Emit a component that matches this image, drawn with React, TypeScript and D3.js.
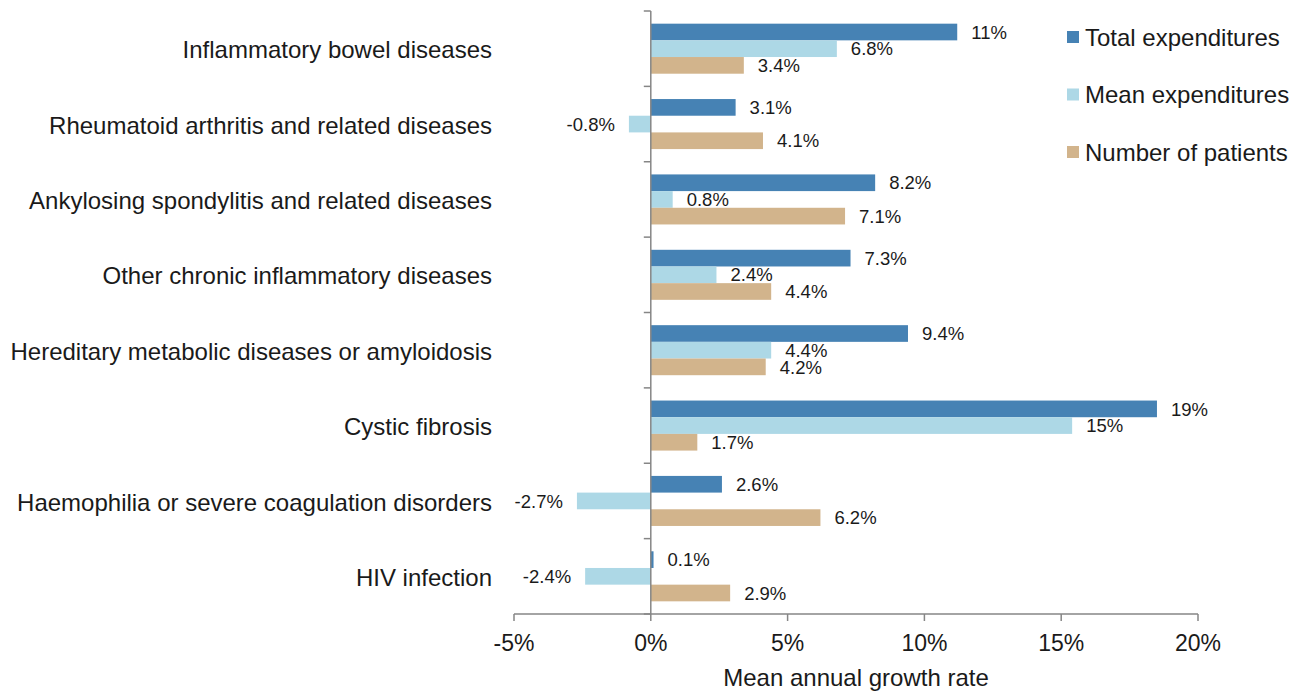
import React from 'react';
import * as d3 from 'd3';

const categories = [
  'Inflammatory bowel diseases',
  'Rheumatoid arthritis and related diseases',
  'Ankylosing spondylitis and related diseases',
  'Other chronic inflammatory diseases',
  'Hereditary metabolic diseases or amyloidosis',
  'Cystic fibrosis',
  'Haemophilia or severe coagulation disorders',
  'HIV infection',
];
const seriesNames = ['Total expenditures', 'Mean expenditures', 'Number of patients'];
const seriesColors = ['#4682b4', '#add8e6', '#d2b48c'];
const totalExpenditures = [11.2, 3.1, 8.2, 7.3, 9.4, 18.5, 2.6, 0.1];
const meanExpenditures = [6.8, -0.8, 0.8, 2.4, 4.4, 15.4, -2.7, -2.4];
const numberOfPatients = [3.4, 4.1, 7.1, 4.4, 4.2, 1.7, 6.2, 2.9];
const xTicks = [-5, 0, 5, 10, 15, 20];
const xTitle = 'Mean annual growth rate';

const series = [totalExpenditures, meanExpenditures, numberOfPatients];

const width = 1297;
const height = 696;
const font = '"Liberation Sans", Arial, sans-serif';
const axisColor = '#868686';
const textColor = '#1a1a1a';

// values of 10% and more are shown without decimals, like the source
const fmt = (v: number) => (Math.abs(v) >= 10 ? `${Math.round(v)}%` : `${v.toFixed(1)}%`);

export default function App() {
  const x = d3.scaleLinear().domain([-5, 20]).range([514, 1198]);
  const y = d3.scaleBand<string>().domain(categories).range([11, 614]);
  const inner = d3
    .scaleBand<number>()
    .domain(d3.range(series.length))
    .range([0, y.bandwidth()])
    .paddingOuter(0.76);
  const x0 = x(0);
  const [yTop, yBottom] = y.range();

  return (
    <svg
      width={width}
      height={height}
      style={{ position: 'absolute', left: 0, top: 0, display: 'block', background: '#fff' }}
      fontFamily={font}
    >
      {/* bars */}
      {categories.map((cat, i) => (
        <g key={cat} transform={`translate(0,${y(cat)})`}>
          {series.map((vals, s) => {
            const v = vals[i];
            return (
              <rect
                key={s}
                x={Math.min(x(v), x0)}
                y={inner(s)}
                width={Math.abs(x(v) - x0)}
                height={inner.bandwidth()}
                fill={seriesColors[s]}
              />
            );
          })}
        </g>
      ))}

      {/* value labels */}
      {categories.map((cat, i) => (
        <g key={cat + '-lbl'} transform={`translate(0,${y(cat)})`}>
          {series.map((vals, s) => {
            const v = vals[i];
            const pos = v >= 0;
            return (
              <text
                key={s}
                x={pos ? x(v) + 14 : x(v) - 14}
                y={(inner(s) as number) + inner.bandwidth() / 2}
                dy="0.36em"
                textAnchor={pos ? 'start' : 'end'}
                fontSize={18.5}
                fill={textColor}
              >
                {fmt(v)}
              </text>
            );
          })}
        </g>
      ))}

      {/* category axis */}
      <line x1={x0} x2={x0} y1={yTop} y2={yBottom} stroke={axisColor} strokeWidth={1.5} />
      {d3.range(categories.length + 1).map((k) => {
        const yy = yTop + k * y.step();
        return <line key={k} x1={x0 - 7} x2={x0} y1={yy} y2={yy} stroke={axisColor} strokeWidth={1.5} />;
      })}
      {categories.map((cat) => (
        <text
          key={cat + '-cat'}
          x={492}
          y={(y(cat) as number) + y.bandwidth() / 2 + 1}
          dy="0.36em"
          textAnchor="end"
          fontSize={24}
          fill={textColor}
        >
          {cat}
        </text>
      ))}

      {/* value axis */}
      <line x1={x(-5)} x2={x(20)} y1={yBottom} y2={yBottom} stroke={axisColor} strokeWidth={1.5} />
      {xTicks.map((t) => (
        <g key={t}>
          <line x1={x(t)} x2={x(t)} y1={yBottom} y2={yBottom + 7} stroke={axisColor} strokeWidth={1.5} />
          <text x={x(t)} y={643} dy="0.36em" textAnchor="middle" fontSize={23} fill={textColor}>
            {`${t}%`}
          </text>
        </g>
      ))}
      <text x={x(7.5)} y={677} dy="0.36em" textAnchor="middle" fontSize={24} fill={textColor}>
        {xTitle}
      </text>

      {/* legend */}
      {seriesNames.map((name, s) => (
        <g key={name} transform={`translate(1067,${37 + s * 57.5})`}>
          <rect x={0} y={-6} width={12} height={12} fill={seriesColors[s]} />
          <text x={18} y={0} dy="0.36em" fontSize={24} fill={textColor}>
            {name}
          </text>
        </g>
      ))}
    </svg>
  );
}
